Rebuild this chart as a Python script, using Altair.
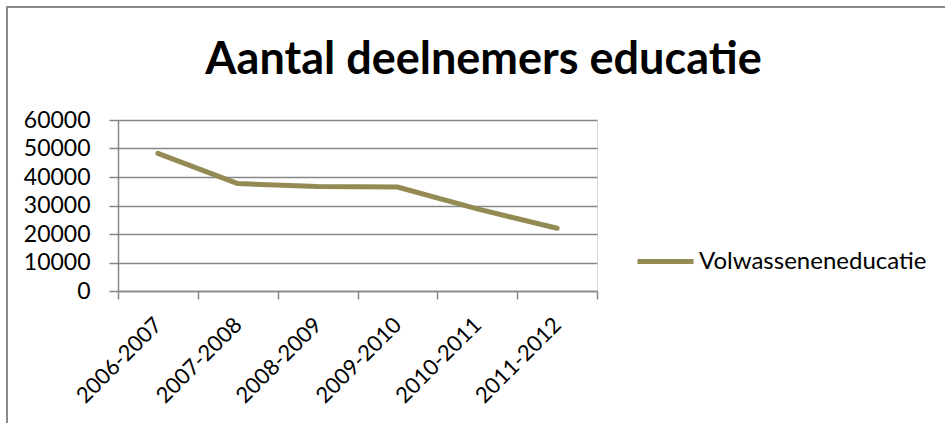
import altair as alt
import pandas as pd

years = ["2006-2007", "2007-2008", "2008-2009", "2009-2010", "2010-2011", "2011-2012"]
values = [48300, 37700, 36700, 36500, 28800, 22000]
series = ["Volwasseneneducatie"] * len(years)

df = pd.DataFrame({"jaar": years, "deelnemers": values, "reeks": series})

FONT = "Lato"
GRID = "#878787"
LINE = "#948A54"

W, H = 479, 171
PL, PT = 118, 120

frame = alt.Chart(df).mark_rect(
    fill="transparent", stroke="#8a8a8a", strokeWidth=1.5, clip=False
).encode(
    x=alt.value(7 - PL), x2=alt.value(945 - PL + 20),
    y=alt.value(7 - PT), y2=alt.value(423 - PT + 20),
)

line = alt.Chart(df).mark_line(strokeWidth=5, strokeCap="round", strokeJoin="round").encode(
    x=alt.X("jaar:N", sort=years, bandPosition=0.5,
            scale=alt.Scale(type="band", paddingInner=0, paddingOuter=0),
            axis=alt.Axis(title=None, tickBand="extent", labelAngle=-45, labelAlign="right",
                          labelBaseline="middle", labelFont=FONT, labelFontSize=22,
                          labelColor="black", tickSize=8, tickColor=GRID, tickWidth=1.5,
                          domainColor=GRID, domainWidth=1.5, labelPadding=22, grid=False)),
    y=alt.Y("deelnemers:Q",
            scale=alt.Scale(domain=[0, 60000], nice=False),
            axis=alt.Axis(title=None, values=[0, 10000, 20000, 30000, 40000, 50000, 60000],
                          format="d", labelFont=FONT, labelFontSize=23, labelColor="black",
                          tickSize=9, tickColor=GRID, tickWidth=1.5, domainColor=GRID,
                          domainWidth=1.5, gridColor=GRID, gridWidth=1.5, labelPadding=19)),
    color=alt.Color("reeks:N", scale=alt.Scale(range=[LINE]),
                    legend=alt.Legend(title=None, orient="none", legendX=517, legendY=111,
                                      symbolType="stroke", symbolSize=3136, symbolStrokeWidth=5,
                                      labelFont=FONT, labelFontSize=24, labelColor="black",
                                      labelOffset=3, labelLimit=400)),
)

chart = alt.layer(frame, line).properties(
    width=W, height=H,
    autosize=alt.AutoSizeParams(type="none"),
    padding={"left": PL, "top": PT, "right": 945 - PL - W, "bottom": 423 - PT - H},
    title=alt.Title("Aantal deelnemers educatie", font=FONT, fontSize=45, fontWeight="bold",
                    color="black", anchor="middle", dx=126, offset=-113, baseline="alphabetic"),
).configure_view(stroke=None).configure(background="white")

chart.save("out.html", embed_options={"renderer": "svg", "actions": False})
